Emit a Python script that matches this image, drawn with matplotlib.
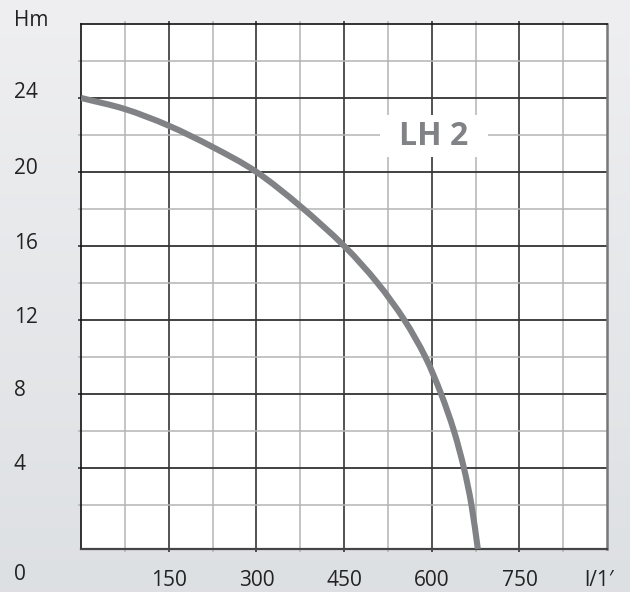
import numpy as np
import matplotlib
matplotlib.use("Agg")
import matplotlib.pyplot as plt
from matplotlib.path import Path
from matplotlib.patches import PathPatch, Rectangle
from matplotlib.ticker import FixedLocator

# Data
flow = [0, 75, 150, 225, 300, 375, 450, 507, 553, 589, 616, 638, 655, 668, 679]
head = [24, 23.4, 22.5, 21.35, 20, 18.15, 16, 14, 12, 10, 8, 6, 4, 2, -0.4]
x_ticks = [150, 300, 450, 600, 750]
y_ticks = [0, 4, 8, 12, 16, 20, 24]
label = "LH 2"

W, H = 630, 592
fig = plt.figure(figsize=(W / 100, H / 100), dpi=100)

# background gradient
bg = fig.add_axes([0, 0, 1, 1], zorder=-10)
grad = np.linspace(0, 1, 256).reshape(-1, 1)
top = np.array([0.937, 0.937, 0.945])
bot = np.array([0.867, 0.878, 0.890])
img = top[None, None, :] * (1 - grad[:, :, None]) + bot[None, None, :] * grad[:, :, None]
bg.imshow(img, aspect="auto", extent=[0, 1, 0, 1])
bg.axis("off")

def px(x, y):
    return x / W, 1 - y / H

x0, x1, y0, y1 = 81, 607, 24, 549
ax = fig.add_axes([x0 / W, 1 - y1 / H, (x1 - x0) / W, (y1 - y0) / H])
ax.set_facecolor("white")
ax.set_xlim(0, 900)
ax.set_ylim(-0.4, 28)

# grid
for q in range(75, 900, 75):
    major = q % 150 == 0
    ax.axvline(q, color="#444444" if major else "#b4b4b4", lw=1.3 if major else 1.1, zorder=1)
for h in range(2, 28, 2):
    major = h % 4 == 0
    ax.axhline(h, color="#333333" if major else "#b4b4b4", lw=1.3 if major else 1.1, zorder=1)

ax.xaxis.set_major_locator(FixedLocator(list(range(150, 900, 150))))
ax.xaxis.set_minor_locator(FixedLocator(list(range(75, 900, 150))))
ax.yaxis.set_major_locator(FixedLocator(list(range(4, 28, 4))))
ax.yaxis.set_minor_locator(FixedLocator(list(range(2, 28, 4))))
ax.tick_params(which="both", direction="out", length=2.5, labelbottom=False,
               labelleft=False, top=True, right=False)
ax.tick_params(which="major", color="#444444", width=1.3)
ax.tick_params(which="minor", color="#b4b4b4", width=1.1)

for s in ["left", "top"]:
    ax.spines[s].set_color("#111111")
    ax.spines[s].set_linewidth(1.2)
ax.spines["bottom"].set_color("#444444")
ax.spines["bottom"].set_linewidth(1.6)
ax.spines["right"].set_color("#777777")
ax.spines["right"].set_linewidth(1.8)

# smooth curve through the read points (Catmull-Rom -> cubic Bezier)
P = np.column_stack([flow, head]).astype(float)
ext = np.vstack([2 * P[0] - P[1], P, 2 * P[-1] - P[-2]])
verts = [tuple(P[0])]
codes = [Path.MOVETO]
for i in range(1, len(ext) - 2):
    p0, p1, p2, p3 = ext[i - 1], ext[i], ext[i + 1], ext[i + 2]
    c1 = p1 + (p2 - p0) / 6
    c2 = p2 - (p3 - p1) / 6
    verts += [tuple(c1), tuple(c2), tuple(p2)]
    codes += [Path.CURVE4] * 3
ax.add_patch(PathPatch(Path(verts, codes), fill=False, edgecolor="#808285",
                       lw=4.4, capstyle="butt", zorder=3))

# label with white box
bx0, by0, bx1, by1 = 380, 115, 488, 157
ax.add_patch(Rectangle(px(bx0, by1), (bx1 - bx0) / W, (by1 - by0) / H,
                       transform=fig.transFigure, facecolor="white",
                       edgecolor="none", zorder=4, clip_on=False))
ax.text(*px(434, 137), label, transform=fig.transFigure, ha="center", va="center",
        fontsize=23, fontweight="bold", family="Open Sans", color="#808285",
        zorder=5)

tk = dict(family="Open Sans", fontsize=15, color="#222222")
fig.text(*px(14, 20), "Hm", ha="left", va="center", **tk)
ylab_y = {24: 93, 20: 168, 16: 243, 12: 317, 8: 391, 4: 465, 0: 575}
for v in y_ticks:
    fig.text(*px(14, ylab_y[v]), str(v), ha="left", va="center", **tk)
xlab_x = {150: 169, 300: 257, 450: 344, 600: 432, 750: 520}
for v in x_ticks:
    fig.text(*px(xlab_x[v], 580), str(v), ha="center", va="center", **tk)
fig.text(*px(584, 580), "l/1\u2032", ha="left", va="center", **tk)

fig.savefig("out.png", dpi=100)
